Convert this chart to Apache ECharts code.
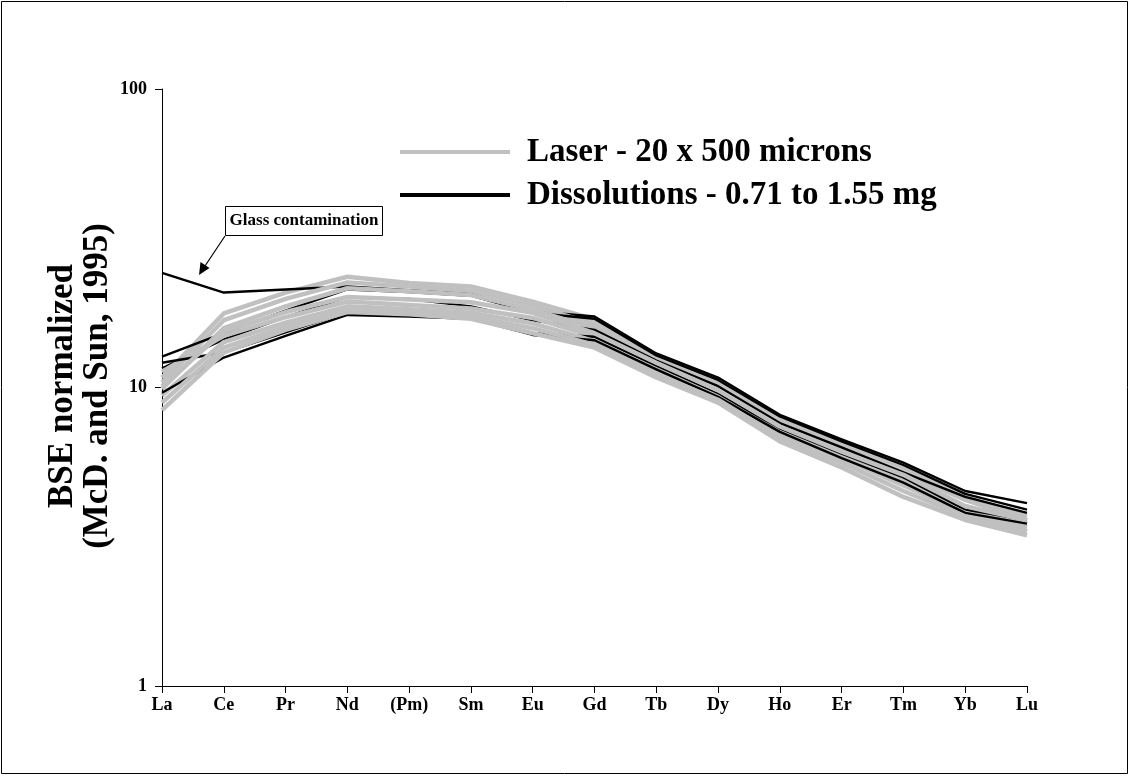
<!DOCTYPE html>
<html>
<head>
<meta charset="utf-8">
<style>
  html, body { margin: 0; padding: 0; background: #fff; }
  #chart { width: 1130px; height: 776px; }
</style>
<script src="https://cdn.jsdelivr.net/npm/echarts@6/dist/echarts.min.js"></script>
</head>
<body>
<div id="chart"></div>
<script>
// Rare earth element order (Pm kept as a placeholder position)
const elements = ['La', 'Ce', 'Pr', 'Nd', '(Pm)', 'Sm', 'Eu', 'Gd', 'Tb', 'Dy', 'Ho', 'Er', 'Tm', 'Yb', 'Lu'];

// Laser ablation profiles, 20 x 500 micron spots
const laser1 = [10.8, 17.7, 20.8, 23.5, 22.4, 21.8, 19.4, 16.9, 12.8, 10.5, 7.9, 6.5, 5.4, 4.3, 3.7];
const laser2 = [10.4, 16.8, 19.8, 22.5, 21.8, 21.1, 18.8, 16.3, 12.5, 10.2, 7.7, 6.3, 5.2, 4.2, 3.6];
const laser3 = [9.9, 15.8, 18.7, 21.5, 21.0, 20.4, 18.2, 15.8, 12.2, 9.9, 7.5, 6.2, 5.0, 4.0, 3.5];
const laser4 = [11.3, 14.9, 17.2, 19.4, 18.9, 18.4, 17.1, 14.8, 11.9, 9.6, 7.2, 6.0, 4.9, 3.9, 3.4];
const laser5 = [9.4, 14.2, 16.5, 18.7, 18.3, 17.8, 16.4, 14.3, 11.5, 9.3, 7.0, 5.8, 4.7, 3.8, 3.3];
const laser6 = [8.9, 13.6, 16.0, 18.2, 17.9, 17.3, 15.8, 13.9, 11.1, 9.1, 6.8, 5.6, 4.5, 3.7, 3.3];
const laser7 = [8.4, 13.1, 15.6, 17.9, 17.6, 17.0, 15.2, 13.6, 10.8, 8.9, 6.6, 5.4, 4.3, 3.6, 3.2];
const laser8 = [10.1, 15.4, 17.9, 20.1, 19.7, 19.3, 17.8, 15.2, 12.1, 9.8, 7.4, 6.1, 5.1, 4.0, 3.6];

// Solution analyses, 0.71 to 1.55 mg dissolved
const dissGlass = [24.2, 20.8, 21.3, 21.8, 21.2, 20.6, 18.0, 17.3, 13.0, 10.8, 8.1, 6.7, 5.6, 4.5, 4.1];
const diss2 = [12.7, 15.2, 18.1, 21.3, 20.9, 20.3, 17.8, 17.0, 12.8, 10.6, 8.0, 6.6, 5.5, 4.4, 3.9];
const diss3 = [11.6, 14.5, 17.2, 20.1, 19.8, 18.7, 16.8, 15.6, 12.3, 10.1, 7.6, 6.3, 5.2, 4.3, 3.8];
const diss4 = [12.1, 13.1, 15.3, 17.9, 17.7, 17.2, 15.2, 14.8, 11.8, 9.5, 7.3, 6.0, 5.0, 3.9, 3.6];
const diss5 = [9.6, 12.6, 14.9, 17.5, 17.3, 17.0, 15.0, 14.4, 11.5, 9.3, 7.1, 5.8, 4.8, 3.8, 3.5];

const yTicks = [1, 10, 100];

const LASER = 'Laser - 20 x 500 microns';
const DISS = 'Dissolutions - 0.71 to 1.55 mg';
const serif = '"Liberation Serif", "Times New Roman", serif';

const laserSets = [laser1, laser2, laser3, laser4, laser5, laser6, laser7, laser8];
const dissSets = [dissGlass, diss2, diss3, diss4, diss5];

function lineSeries(name, data, color, width, z) {
  return {
    name: name,
    type: 'line',
    data: data,
    color: color,
    symbol: 'none',
    z: z,
    lineStyle: { color: color, width: width, join: 'round' },
    emphasis: { disabled: true }
  };
}

const series = [];
// interleave the two groups so neither sits entirely on top
const n = Math.max(laserSets.length, dissSets.length);
for (let i = 0; i < n; i++) {
  if (laserSets[i]) series.push(lineSeries(LASER, laserSets[i], '#c0c0c0', 4.5, 2));
  if (dissSets[i]) series.push(lineSeries(DISS, dissSets[i], '#000000', 2.4, 2));
}

const chart = echarts.init(document.getElementById('chart'), null, { renderer: 'canvas' });
chart.setOption({
  animation: false,
  backgroundColor: '#ffffff',
  textStyle: { fontFamily: serif },
  grid: { left: 162, right: 103, top: 89, bottom: 90, containLabel: false },
  legend: {
    data: [LASER, DISS],
    orient: 'vertical',
    left: 400,
    top: 134,
    padding: 0,
    icon: 'rect',
    itemWidth: 110,
    itemHeight: 4,
    itemGap: 7,
    selectedMode: false,
    textStyle: { fontFamily: serif, fontWeight: 'bold', fontSize: 33, lineHeight: 36, color: '#000',
                 padding: [0, 0, 0, 12] }
  },
  xAxis: {
    type: 'category',
    data: elements,
    boundaryGap: false,
    axisLine: { lineStyle: { color: '#000', width: 1 } },
    axisTick: { alignWithLabel: true, length: 7, lineStyle: { color: '#000' } },
    axisLabel: { fontFamily: serif, fontWeight: 'bold', fontSize: 18, color: '#000', margin: 10, interval: 0 },
    splitLine: { show: false }
  },
  yAxis: {
    type: 'log',
    logBase: 10,
    min: yTicks[0],
    max: yTicks[yTicks.length - 1],
    axisLine: { show: true, lineStyle: { color: '#000', width: 1 } },
    axisTick: { show: true, length: 7, lineStyle: { color: '#000' } },
    minorTick: { show: false },
    axisLabel: { fontFamily: serif, fontWeight: 'bold', fontSize: 18, color: '#000', margin: 15 },
    splitLine: { show: false }
  },
  series: series,
  graphic: [
    // outer frame
    { type: 'rect', shape: { x: 1.5, y: 1.5, width: 1126, height: 772 },
      style: { fill: null, stroke: '#000', lineWidth: 1 }, silent: true, z: 0 },
    // axis title
    { type: 'text', x: 80, y: 386, rotation: Math.PI / 2,
      style: { text: 'BSE normalized\n(McD. and Sun, 1995)', fill: '#000', font: 'bold 35px ' + serif,
               align: 'center', verticalAlign: 'middle', lineHeight: 35 }, z: 10 },
    // annotation box
    { type: 'rect', shape: { x: 225.5, y: 206.5, width: 157, height: 29 },
      style: { fill: '#fff', stroke: '#000', lineWidth: 1 }, z: 10 },
    { type: 'text', x: 304, y: 221,
      style: { text: 'Glass contamination', fill: '#000', font: 'bold 17px ' + serif,
               align: 'center', verticalAlign: 'middle' }, z: 11 },
    // pointer from the box to the contaminated profile
    { type: 'line', shape: { x1: 225, y1: 236, x2: 205, y2: 266 },
      style: { stroke: '#000', lineWidth: 1.2 }, z: 10 },
    { type: 'polygon', shape: { points: [[199, 275], [200.5, 262], [209.5, 268]] },
      style: { fill: '#000' }, z: 10 }
  ]
});
</script>
</body>
</html>
